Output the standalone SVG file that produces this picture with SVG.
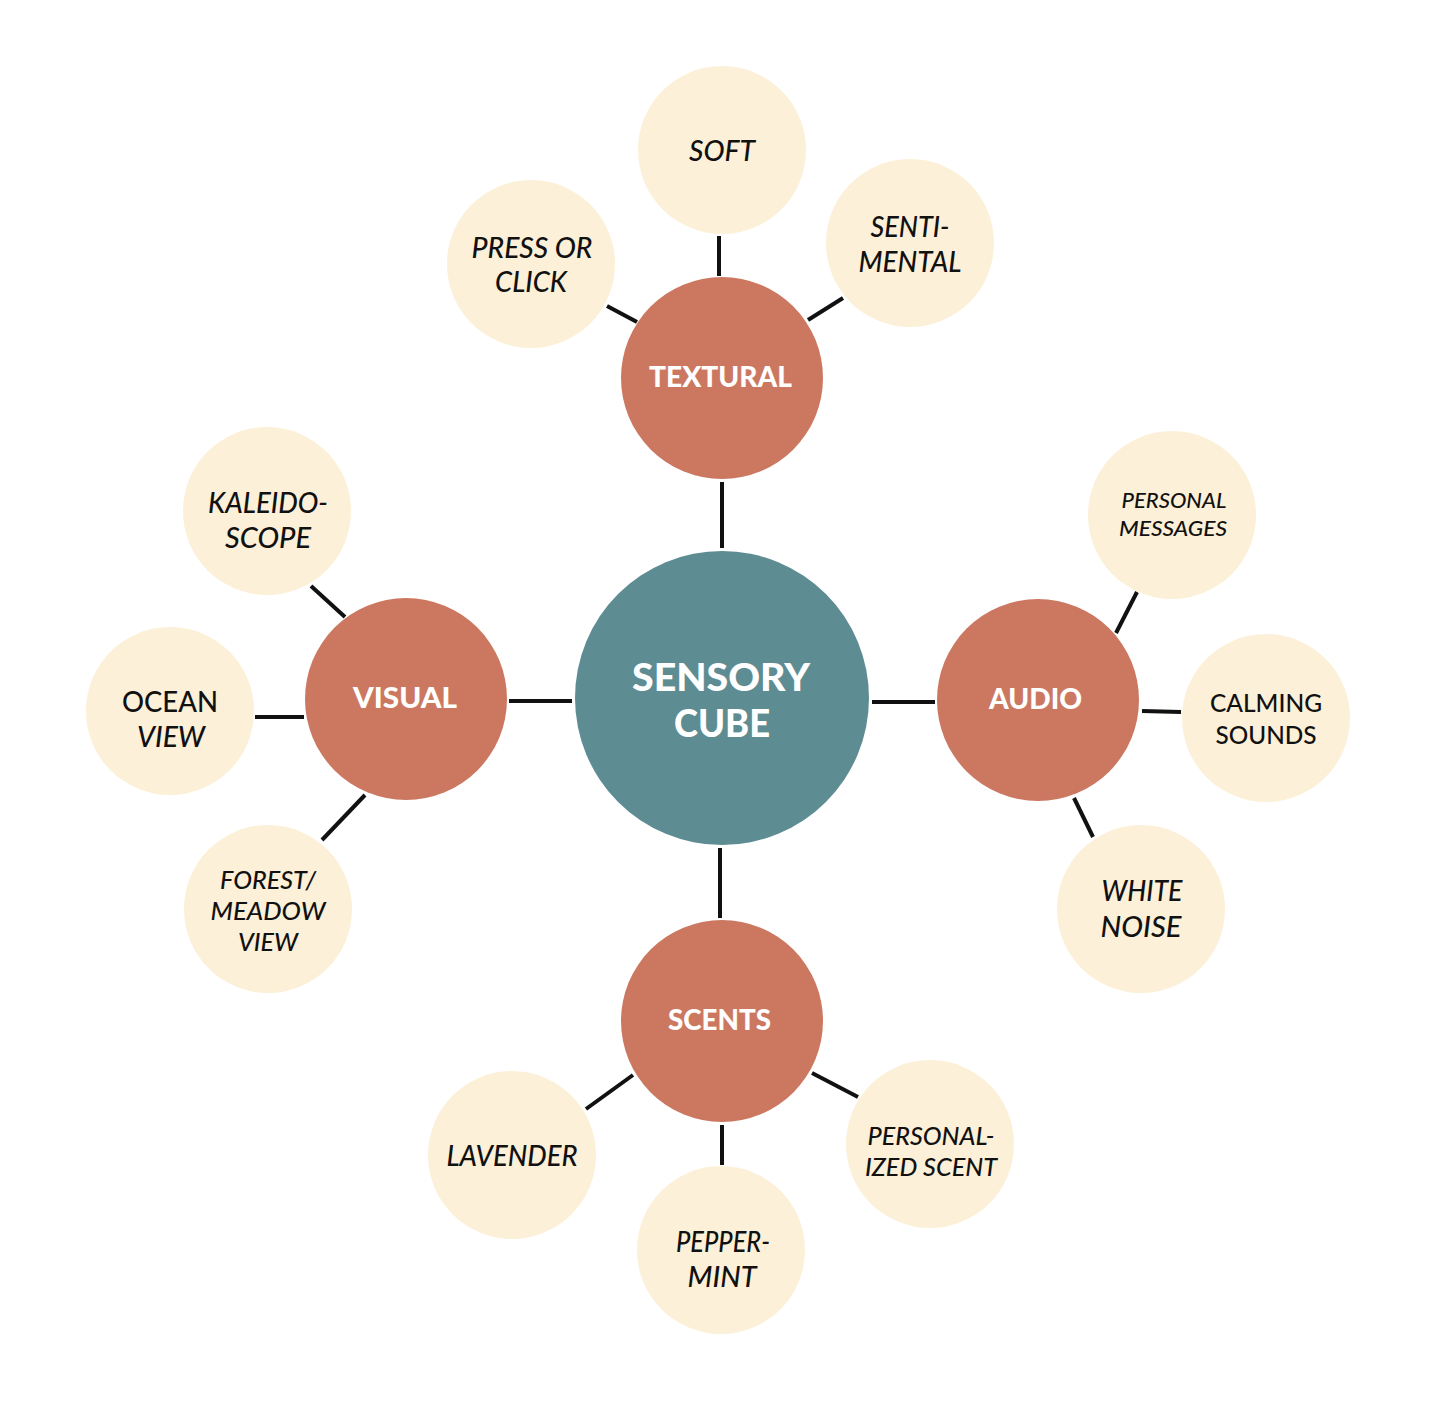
<svg xmlns="http://www.w3.org/2000/svg" width="1434" height="1401" viewBox="0 0 1434 1401">
<style>
.hub{fill:#5E8C93}
.cat{fill:#CC7861}
.leaf{fill:#FCF0D8}
.conn line{stroke:#111;stroke-width:4;stroke-linecap:butt}
.t{font-family:"Lato","Liberation Sans",sans-serif;text-anchor:middle}
.hubt{fill:#fff;font-weight:900;font-size:37px}
.catt{fill:#fff;font-weight:900;font-size:28px}
.lt{fill:#111;font-weight:500;font-size:28px;font-style:italic}
.lu{fill:#111;font-weight:500;font-size:28px}
.ls{font-size:21px}
.lm{font-size:25px}
</style>
<rect width="1434" height="1401" fill="#fff"/>
<g class="conn" id="connectors">
<line x1="722" y1="482" x2="722" y2="548"/>
<line x1="719" y1="236" x2="719" y2="276"/>
<line x1="607" y1="306" x2="637" y2="322"/>
<line x1="808" y1="320" x2="843" y2="298"/>
<line x1="509" y1="701" x2="572" y2="701"/>
<line x1="311" y1="586" x2="345" y2="617"/>
<line x1="255" y1="717" x2="304" y2="717"/>
<line x1="322" y1="840" x2="365" y2="795"/>
<line x1="872" y1="702" x2="935" y2="702"/>
<line x1="1137" y1="592" x2="1116" y2="633"/>
<line x1="1142" y1="711" x2="1181" y2="712"/>
<line x1="1074" y1="798" x2="1093" y2="837"/>
<line x1="720" y1="848" x2="720" y2="918"/>
<line x1="586" y1="1109" x2="633" y2="1075"/>
<line x1="722" y1="1125" x2="722" y2="1165"/>
<line x1="812" y1="1073" x2="858" y2="1097"/>
</g>
<g id="sensory-cube"><circle class="hub" cx="722" cy="698" r="147"/>
<text class="t hubt" x="721" y="691" textLength="178" lengthAdjust="spacingAndGlyphs">SENSORY</text>
<text class="t hubt" x="722" y="737" textLength="96" lengthAdjust="spacingAndGlyphs">CUBE</text></g>
<g id="textural"><circle class="cat" cx="722" cy="378" r="101"/>
<text class="t catt" x="720.5" y="387" textLength="143" lengthAdjust="spacingAndGlyphs">TEXTURAL</text></g>
<g id="visual"><circle class="cat" cx="406" cy="699" r="101"/>
<text class="t catt" x="405" y="708" textLength="104" lengthAdjust="spacingAndGlyphs">VISUAL</text></g>
<g id="audio"><circle class="cat" cx="1038" cy="700" r="101"/>
<text class="t catt" x="1035.5" y="709" textLength="93" lengthAdjust="spacingAndGlyphs">AUDIO</text></g>
<g id="scents"><circle class="cat" cx="722" cy="1021" r="101"/>
<text class="t catt" x="719.5" y="1030" textLength="103" lengthAdjust="spacingAndGlyphs">SCENTS</text></g>
<g id="soft"><circle class="leaf" cx="722" cy="150" r="84"/>
<text class="t lt" x="722" y="161" textLength="66" lengthAdjust="spacingAndGlyphs">SOFT</text></g>
<g id="press-or-click"><circle class="leaf" cx="531" cy="264" r="84"/>
<text class="t lt" x="532" y="258" textLength="121" lengthAdjust="spacingAndGlyphs">PRESS OR</text>
<text class="t lt" x="531" y="292" textLength="72" lengthAdjust="spacingAndGlyphs">CLICK</text></g>
<g id="sentimental"><circle class="leaf" cx="910" cy="243" r="84"/>
<text class="t lt" x="910" y="237" textLength="79" lengthAdjust="spacingAndGlyphs">SENTI-</text>
<text class="t lt" x="910" y="272" textLength="103" lengthAdjust="spacingAndGlyphs">MENTAL</text></g>
<g id="kaleidoscope"><circle class="leaf" cx="267" cy="511" r="84"/>
<text class="t lt" x="268" y="513" textLength="120" lengthAdjust="spacingAndGlyphs">KALEIDO-</text>
<text class="t lt" x="268" y="548" textLength="86" lengthAdjust="spacingAndGlyphs">SCOPE</text></g>
<g id="ocean-view"><circle class="leaf" cx="170" cy="711" r="84"/>
<text class="t lu" x="170" y="712" textLength="96" lengthAdjust="spacingAndGlyphs">OCEAN</text>
<text class="t lt" x="171" y="747" textLength="68" lengthAdjust="spacingAndGlyphs">VIEW</text></g>
<g id="forest-meadow-view"><circle class="leaf" cx="268" cy="909" r="84"/>
<text class="t lt lm" x="268" y="889" textLength="96" lengthAdjust="spacingAndGlyphs">FOREST/</text>
<text class="t lt lm" x="268" y="920" textLength="115" lengthAdjust="spacingAndGlyphs">MEADOW</text>
<text class="t lt lm" x="268" y="951" textLength="60" lengthAdjust="spacingAndGlyphs">VIEW</text></g>
<g id="personal-messages"><circle class="leaf" cx="1172" cy="515" r="84"/>
<text class="t lt ls" x="1174" y="508" textLength="105" lengthAdjust="spacingAndGlyphs">PERSONAL</text>
<text class="t lt ls" x="1173" y="536" textLength="108" lengthAdjust="spacingAndGlyphs">MESSAGES</text></g>
<g id="calming-sounds"><circle class="leaf" cx="1266" cy="718" r="84"/>
<text class="t lu lm" x="1266" y="712" textLength="112" lengthAdjust="spacingAndGlyphs">CALMING</text>
<text class="t lu lm" x="1266" y="744" textLength="101" lengthAdjust="spacingAndGlyphs">SOUNDS</text></g>
<g id="white-noise"><circle class="leaf" cx="1141" cy="909" r="84"/>
<text class="t lt" x="1142" y="901" textLength="81" lengthAdjust="spacingAndGlyphs">WHITE</text>
<text class="t lt" x="1141" y="937" textLength="81" lengthAdjust="spacingAndGlyphs">NOISE</text></g>
<g id="lavender"><circle class="leaf" cx="512" cy="1155" r="84"/>
<text class="t lt" x="512" y="1166" textLength="131" lengthAdjust="spacingAndGlyphs">LAVENDER</text></g>
<g id="peppermint"><circle class="leaf" cx="721" cy="1250" r="84"/>
<text class="t lt" x="723" y="1252" textLength="94" lengthAdjust="spacingAndGlyphs">PEPPER-</text>
<text class="t lt" x="722" y="1287" textLength="69" lengthAdjust="spacingAndGlyphs">MINT</text></g>
<g id="personalized-scent"><circle class="leaf" cx="930" cy="1144" r="84"/>
<text class="t lt lm" x="931" y="1145" textLength="127" lengthAdjust="spacingAndGlyphs">PERSONAL-</text>
<text class="t lt lm" x="931" y="1176" textLength="132" lengthAdjust="spacingAndGlyphs">IZED SCENT</text></g>
</svg>
